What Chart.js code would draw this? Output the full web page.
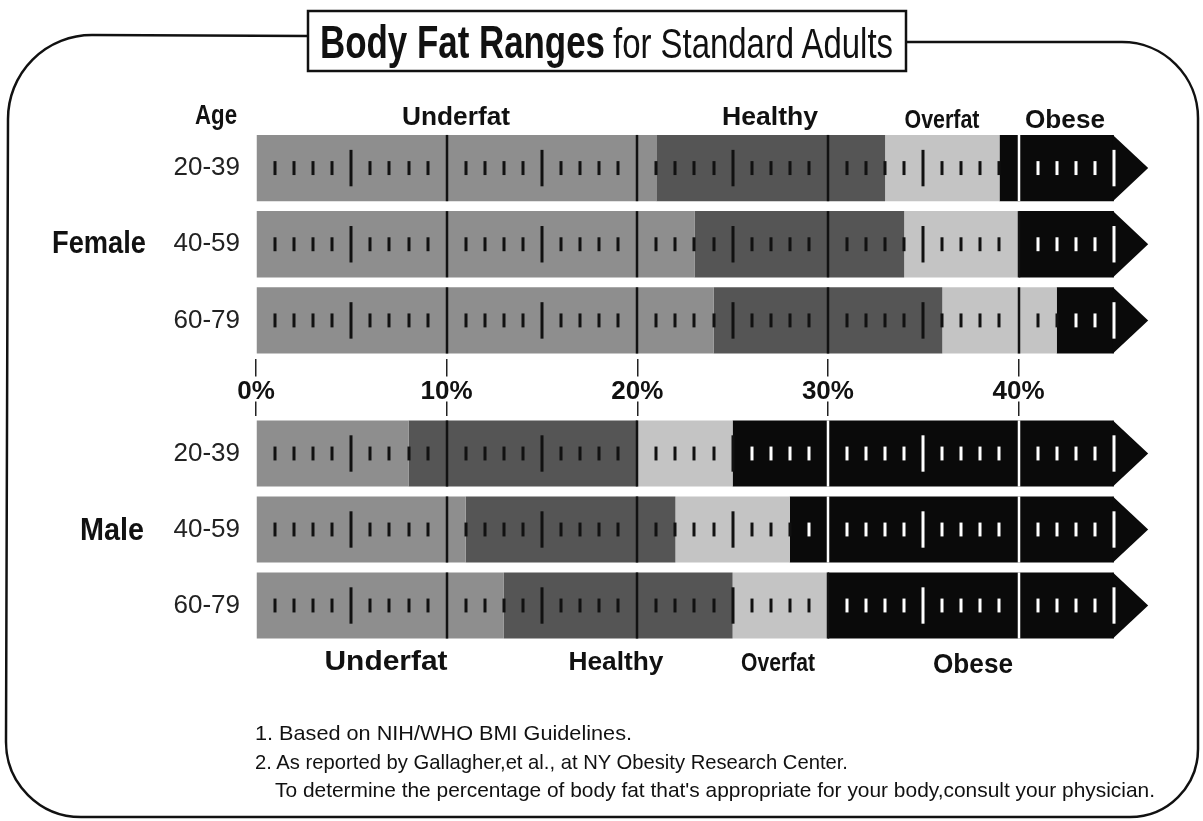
<!DOCTYPE html>
<html>
<head>
<meta charset="utf-8">
<title>Body Fat Ranges for Standard Adults</title>
<script src="https://cdn.jsdelivr.net/npm/chart.js@4.4.0/dist/chart.umd.min.js"></script>
<style>
  html, body { margin: 0; padding: 0; background: #fff; }
  #page { position: relative; width: 1203px; height: 821px; overflow: hidden; background: #fff; }
  canvas { position: absolute; left: 0; }
  #femaleChart { top: 120px; }
  #maleChart { top: 395px; }
  svg { position: absolute; left: 0; top: 0; pointer-events: none; }
  .narrow { font-family: 'Liberation Sans Narrow', 'Liberation Sans', Arial, sans-serif; }
  .sans { font-family: 'Liberation Sans', Arial, sans-serif; }
</style>
</head>
<body>
<div id="page">
  <canvas id="femaleChart" width="1203" height="300"></canvas>
  <canvas id="maleChart" width="1203" height="250"></canvas>
  <svg width="1203" height="821">
    <!-- frame round the whole card, open where the title box sits -->
    <path d="M308 36 L92 35 A84 84 0 0 0 8 119 L6 742 A75 75 0 0 0 81 817 L1130 817 A68 68 0 0 0 1198 749 L1198 118 A76 76 0 0 0 1122 42 L906 42"
          fill="none" stroke="#111" stroke-width="2.5"/>
    <rect x="308" y="11" width="598" height="60" fill="#fff" stroke="#111" stroke-width="2.5"/>
    <g fill="#111">
      <text class="narrow" x="320" y="58" font-size="46" font-weight="bold" textLength="285" lengthAdjust="spacingAndGlyphs">Body Fat Ranges</text>
      <text class="narrow" x="613" y="58" font-size="42" textLength="280" lengthAdjust="spacingAndGlyphs">for Standard Adults</text>

      <text class="narrow" x="216" y="124" font-size="28" font-weight="bold" text-anchor="middle" textLength="42" lengthAdjust="spacingAndGlyphs">Age</text>
      <text class="sans" x="456" y="125" font-size="26" font-weight="bold" text-anchor="middle" textLength="108" lengthAdjust="spacingAndGlyphs">Underfat</text>
      <text class="sans" x="770" y="125" font-size="26" font-weight="bold" text-anchor="middle" textLength="96" lengthAdjust="spacingAndGlyphs">Healthy</text>
      <text class="narrow" x="942" y="128" font-size="26" font-weight="bold" text-anchor="middle" textLength="75" lengthAdjust="spacingAndGlyphs">Overfat</text>
      <text class="sans" x="1065" y="128" font-size="26" font-weight="bold" text-anchor="middle" textLength="80" lengthAdjust="spacingAndGlyphs">Obese</text>

      <text class="narrow" x="99" y="253" font-size="31" font-weight="bold" text-anchor="middle" textLength="94" lengthAdjust="spacingAndGlyphs">Female</text>
      <text class="narrow" x="112" y="540" font-size="31" font-weight="bold" text-anchor="middle" textLength="64" lengthAdjust="spacingAndGlyphs">Male</text>

      <text class="sans" x="386" y="670" font-size="27" font-weight="bold" text-anchor="middle" textLength="123" lengthAdjust="spacingAndGlyphs">Underfat</text>
      <text class="sans" x="616" y="670" font-size="26" font-weight="bold" text-anchor="middle" textLength="95" lengthAdjust="spacingAndGlyphs">Healthy</text>
      <text class="narrow" x="778" y="671" font-size="26" font-weight="bold" text-anchor="middle" textLength="74" lengthAdjust="spacingAndGlyphs">Overfat</text>
      <text class="sans" x="973" y="673" font-size="27" font-weight="bold" text-anchor="middle" textLength="80" lengthAdjust="spacingAndGlyphs">Obese</text>

      <text class="narrow" x="255" y="740" font-size="21" textLength="377" lengthAdjust="spacingAndGlyphs">1. Based on NIH/WHO BMI Guidelines.</text>
      <text class="narrow" x="255" y="769" font-size="21" textLength="593" lengthAdjust="spacingAndGlyphs">2. As reported by Gallagher,et al., at NY Obesity Research Center.</text>
      <text class="narrow" x="275" y="797" font-size="21" textLength="880" lengthAdjust="spacingAndGlyphs">To determine the percentage of body fat that's appropriate for your body,consult your physician.</text>
    </g>
  </svg>
</div>
<script>
// age bands, top to bottom
var ageGroups = ['20-39', '40-59', '60-79'];

// upper limit (% body fat) of each range
var femaleUnderfat = [21, 23, 24];
var femaleHealthy = [33, 34, 36];
var femaleOverfat = [39, 40, 42];

var maleUnderfat = [8, 11, 13];
var maleHealthy = [20, 22, 25];
var maleOverfat = [25, 28, 30];

var rulerEnd = 45;      // obese bars run to here, arrow head after it
var arrowTip = 46.8;
var xTicks = [0, 10, 20, 30, 40];

var colors = ['#8e8e8e', '#555555', '#c4c4c4', '#0a0a0a'];

// ruler marks + arrow heads, drawn with the x scale
function rulerPlugin(overfat) {
    return {
        id: 'ruler',
        afterDatasetsDraw: function(chart) {
            var ctx = chart.ctx;
            var xs = chart.scales.x;
            var obese = chart.getDatasetMeta(3).data;
            ctx.save();
            obese.forEach(function(bar, i) {
                var top = bar.y - bar.height / 2;
                var h = bar.height;
                // arrow head
                ctx.fillStyle = colors[3];
                ctx.beginPath();
                ctx.moveTo(bar.x - 1, top);
                ctx.lineTo(xs.getPixelForValue(arrowTip), bar.y);
                ctx.lineTo(bar.x - 1, top + h);
                ctx.closePath();
                ctx.fill();

                for (var v = 1; v <= rulerEnd; v++) {
                    var x = Math.round(xs.getPixelForValue(v));
                    ctx.fillStyle = v > overfat[i] ? '#ffffff' : '#111111';
                    if (v % 10 === 0) {
                        ctx.fillRect(x - 1.25, top, 2.5, h);
                    } else if (v % 5 === 0) {
                        var lm = h * 0.55;
                        ctx.fillRect(x - 1.5, bar.y - lm / 2, 3, lm);
                    } else {
                        var ls = h * 0.21;
                        ctx.fillRect(x - 1.5, bar.y - ls / 2, 3, ls);
                    }
                }
            });
            ctx.restore();
        }
    };
}

function noPadding(s) {
    s.paddingTop = 0;
    s.paddingBottom = 0;
    s.paddingLeft = 0;
    s.paddingRight = 0;
}

function makeChart(id, under, healthy, over, showAxisLabels) {
    return new Chart(document.getElementById(id).getContext('2d'), {
        type: 'bar',
        data: {
            labels: ageGroups,
            datasets: [
                { label: 'Underfat', data: under.map(function(v) { return [0, v]; }), backgroundColor: colors[0] },
                { label: 'Healthy', data: under.map(function(v, i) { return [v, healthy[i]]; }), backgroundColor: colors[1] },
                { label: 'Overfat', data: healthy.map(function(v, i) { return [v, over[i]]; }), backgroundColor: colors[2] },
                { label: 'Obese', data: over.map(function(v) { return [v, rulerEnd]; }), backgroundColor: colors[3] }
            ]
        },
        options: {
            indexAxis: 'y',
            responsive: false,
            animation: false,
            layout: {
                padding: showAxisLabels ? { top: 10, right: 51, bottom: 0, left: 0 }
                                        : { top: 0, right: 51, bottom: 1.5, left: 0 }
            },
            datasets: {
                bar: { grouped: false, categoryPercentage: 1, barPercentage: 0.87, borderWidth: 0 }
            },
            plugins: { legend: { display: false }, tooltip: { enabled: false } },
            scales: {
                x: {
                    type: 'linear',
                    position: showAxisLabels ? 'bottom' : 'top',
                    min: 0,
                    max: 47,
                    afterBuildTicks: function(s) {
                        s.ticks = xTicks.map(function(v) { return { value: v }; });
                    },
                    afterFit: function(s) {
                        s.height = showAxisLabels ? 61.5 : 20.5;
                        noPadding(s);
                    },
                    ticks: {
                        display: showAxisLabels,
                        padding: 0,
                        color: '#111',
                        font: { family: "'Liberation Sans Narrow', 'Liberation Sans', Arial", size: 26, weight: 'bold' },
                        callback: function(v) { return v + '%'; }
                    },
                    grid: {
                        drawOnChartArea: false,
                        drawTicks: true,
                        tickLength: showAxisLabels ? 18 : 14,
                        color: '#222',
                        lineWidth: 1.5
                    },
                    border: { display: false }
                },
                y: {
                    afterFit: function(s) {
                        s.width = 256;
                        noPadding(s);
                    },
                    ticks: {
                        padding: 8,
                        color: '#222',
                        font: { family: "'Liberation Sans', Arial", size: 26 }
                    },
                    grid: { display: false },
                    border: { display: false }
                }
            }
        },
        plugins: [rulerPlugin(over)]
    });
}

var femaleChart = makeChart('femaleChart', femaleUnderfat, femaleHealthy, femaleOverfat, true);
var maleChart = makeChart('maleChart', maleUnderfat, maleHealthy, maleOverfat, false);
</script>
</body>
</html>
